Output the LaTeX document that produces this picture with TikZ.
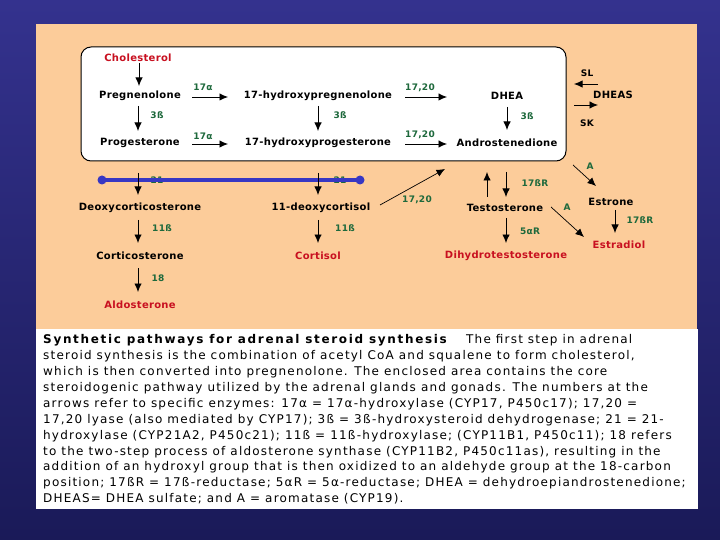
\documentclass[tikz,border=0pt]{standalone}
\usepackage{fontspec}
\setmainfont{DejaVu Sans}
\newfontfamily\capfont[LetterSpace=10]{DejaVu Sans}
\newfontfamily\capbold[LetterSpace=14]{DejaVu Sans Bold}
\newfontfamily\dgfont[LetterSpace=3]{DejaVu Sans Bold}
\usetikzlibrary{arrows.meta}
\definecolor{bgtop}{RGB}{52,50,142}
\definecolor{bgbot}{RGB}{26,26,88}
\definecolor{peach}{RGB}{252,204,154}
\definecolor{enzgreen}{RGB}{30,105,60}
\definecolor{prodred}{RGB}{200,16,32}
\definecolor{barblue}{RGB}{55,55,195}
\tikzset{
 cmp/.style={font=\dgfont\fontsize{10pt}{12pt}\selectfont, inner sep=1pt, text=black},
 final/.style={cmp, text=prodred},
 enz/.style={font=\dgfont\fontsize{9pt}{11pt}\selectfont, inner sep=1pt, text=enzgreen},
 plain/.style={font=\dgfont\fontsize{9pt}{11pt}\selectfont, inner sep=1pt, text=black},
 arr/.style={-{Latex[length=8.5pt,width=7.5pt]}, line width=0.9pt, draw=black},
 capline/.style={anchor=base west, inner sep=0pt, font=\capfont\fontsize{12pt}{14pt}\selectfont},
}
\begin{document}
\begin{tikzpicture}[x=1pt,y=-1pt]
\useasboundingbox (0,0) rectangle (720,540);
\shade[top color=bgtop,bottom color=bgbot] (0,0) rectangle (720,540);
\fill[peach] (36,24) rectangle (697,329);
\fill[white] (36,329) rectangle (698,509);
\draw[line width=1pt, fill=white, rounded corners=10pt] (81,47) rectangle (566,161);

% compounds
\node[final] (chol) at (138,58) {Cholesterol};
\node[cmp] (preg) at (140,96) {Pregnenolone};
\node[cmp] (prog) at (140,143) {Progesterone};
\node[cmp] (ohpreg) at (318,96) {17-hydroxypregnenolone};
\node[cmp] (ohprog) at (318,143) {17-hydroxyprogesterone};
\node[cmp] (dhea) at (507,96) {DHEA};
\node[cmp] (andro) at (507,143) {Androstenedione};
\node[cmp] (dheas) at (613,95) {DHEAS};
\node[cmp] (doc) at (140,208) {Deoxycorticosterone};
\node[cmp] (deoxcort) at (321,208) {11-deoxycortisol};
\node[cmp] (cortico) at (140,256) {Corticosterone};
\node[final] (aldo) at (140,305) {Aldosterone};
\node[final] (cortisol) at (318,256) {Cortisol};
\node[cmp] (testo) at (505,208) {Testosterone};
\node[final] (dht) at (506,256) {Dihydrotestosterone};
\node[cmp] (estrone) at (611,202) {Estrone};
\node[final] (estradiol) at (619,245) {Estradiol};

% enzyme labels
\node[enz] (e17a1) at (203,87) {17α};
\node[enz] (e17a2) at (203,136) {17α};
\node[enz] (e3b1) at (157,115) {3ß};
\node[enz] (e3b2) at (340,115) {3ß};
\node[enz] (e3b3) at (527,116) {3ß};
\node[enz] (e1720a) at (420,88) {17,20};
\node[enz] (e1720b) at (420,135) {17,20};
\node[enz] (e1720c) at (417,200) {17,20};
\node[plain] (sl) at (587,73) {SL};
\node[plain] (sk) at (587,123) {SK};
\node[enz] (e21a) at (157,180) {21};
\node[enz] (e21b) at (340,180) {21};
\node[enz] (e11a) at (162,228) {11ß};
\node[enz] (e11b) at (345,228) {11ß};
\node[enz] (e18) at (158,278) {18};
\node[enz] (e17ra) at (535,183) {17ßR};
\node[enz] (e17rb) at (640,220) {17ßR};
\node[enz] (e5ar) at (530,231) {5αR};
\node[enz] (ea1) at (590,166) {A};
\node[enz] (ea2) at (567,207) {A};

% blue bar
\coordinate (barl) at (102,180);
\coordinate (barr) at (360,180);
\draw[barblue, line width=3.5pt] (barl) -- (barr);
\fill[barblue] (barl) circle (4.5pt) (barr) circle (4.5pt);

% arrows
\draw[arr] ([xshift=1pt,yshift=-5pt]chol.center) -- ([xshift=-1pt,yshift=10pt]preg.center);
\draw[arr] ([xshift=-2pt,yshift=-10pt]preg.center) -- ([xshift=-2pt,yshift=12pt]prog.center);
\draw[arr] ([xshift=52pt,yshift=-1pt]preg.center) -- ([xshift=-90pt,yshift=-1pt]ohpreg.center);
\draw[arr] ([xshift=52pt,yshift=-1pt]prog.center) -- ([xshift=-90pt,yshift=-1pt]ohprog.center);
\draw[arr] ([yshift=-10pt]ohpreg.center) -- ([yshift=12pt]ohprog.center);
\draw[arr] ([xshift=87pt,yshift=-1pt]ohpreg.center) -- ([xshift=-60pt,yshift=-1pt]dhea.center);
\draw[arr] ([xshift=87pt,yshift=-1pt]ohprog.center) -- ([xshift=-60pt,yshift=-1pt]andro.center);
\draw[arr] ([yshift=-11pt]dhea.center) -- ([yshift=13pt]andro.center);
\draw[arr] ([xshift=-15pt,yshift=11pt]dheas.center) -- ([xshift=67pt,yshift=12pt]dhea.center);
\draw[arr] ([xshift=67pt,yshift=-9pt]dhea.center) -- ([xshift=-15pt,yshift=-10pt]dheas.center);
\draw[arr] ([xshift=-2pt,yshift=-30pt]prog.center) -- ([xshift=-2pt,yshift=13pt]doc.center);
\draw[arr] ([yshift=-30pt]ohprog.center) -- ([xshift=-3pt,yshift=13pt]deoxcort.center);
\draw[arr] ([xshift=-2pt,yshift=-12pt]doc.center) -- ([xshift=-2pt,yshift=13pt]cortico.center);
\draw[arr] ([xshift=-2pt,yshift=-12pt]cortico.center) -- ([xshift=-2pt,yshift=13pt]aldo.center);
\draw[arr] ([xshift=-3pt,yshift=-12pt]deoxcort.center) -- ([yshift=13pt]cortisol.center);
\draw[arr, line width=0.7pt] ([xshift=59pt,yshift=3pt]deoxcort.center) -- ([xshift=-62pt,yshift=-26pt]andro.center);
\draw[arr] ([xshift=-18pt,yshift=11pt]testo.center) -- ([xshift=-20pt,yshift=-29pt]andro.center);
\draw[arr] ([xshift=-1pt,yshift=-29pt]andro.center) -- ([xshift=1pt,yshift=11pt]testo.center);
\draw[arr] ([xshift=1pt,yshift=-10pt]testo.center) -- ([yshift=13pt]dht.center);
\draw[arr, line width=0.7pt] ([xshift=66pt,yshift=-22pt]andro.center) -- ([xshift=-15pt,yshift=16pt]estrone.center);
\draw[arr] ([xshift=4pt,yshift=-8pt]estrone.center) -- ([xshift=-4pt,yshift=12pt]estradiol.center);
\draw[arr, line width=0.7pt] ([xshift=46pt,yshift=1pt]testo.center) -- ([xshift=-35pt,yshift=8pt]estradiol.center);

% caption
\node[capline, font=\capbold\fontsize{12pt}{14pt}\selectfont] (cap1a) at (43,343.3) {Synthetic pathways for adrenal steroid synthesis};
\node[capline] (cap1b) at (466,343.3) {The first step in adrenal};
\node[capline] (cap2) at (43,359.3) {steroid synthesis is the combination of acetyl CoA and squalene to form cholesterol,};
\node[capline] (cap3) at (43,375.2) {which is then converted into pregnenolone. The enclosed area contains the core};
\node[capline] (cap4) at (43,391.2) {steroidogenic pathway utilized by the adrenal glands and gonads. The numbers at the};
\node[capline] (cap5) at (43,407.1) {arrows refer to specific enzymes: 17α = 17α-hydroxylase (CYP17, P450c17); 17,20 =};
\node[capline] (cap6) at (43,423.1) {17,20 lyase (also mediated by CYP17); 3ß = 3ß-hydroxysteroid dehydrogenase; 21 = 21-};
\node[capline] (cap7) at (43,439.0) {hydroxylase (CYP21A2, P450c21); 11ß = 11ß-hydroxylase; (CYP11B1, P450c11); 18 refers};
\node[capline] (cap8) at (43,455.0) {to the two-step process of aldosterone synthase (CYP11B2, P450c11as), resulting in the};
\node[capline] (cap9) at (43,470.9) {addition of an hydroxyl group that is then oxidized to an aldehyde group at the 18-carbon};
\node[capline] (cap10) at (43,486.9) {position; 17ßR = 17ß-reductase; 5αR = 5α-reductase; DHEA = dehydroepiandrostenedione;};
\node[capline] (cap11) at (43,502.8) {DHEAS= DHEA sulfate; and A = aromatase (CYP19).};
\end{tikzpicture}
\end{document}
